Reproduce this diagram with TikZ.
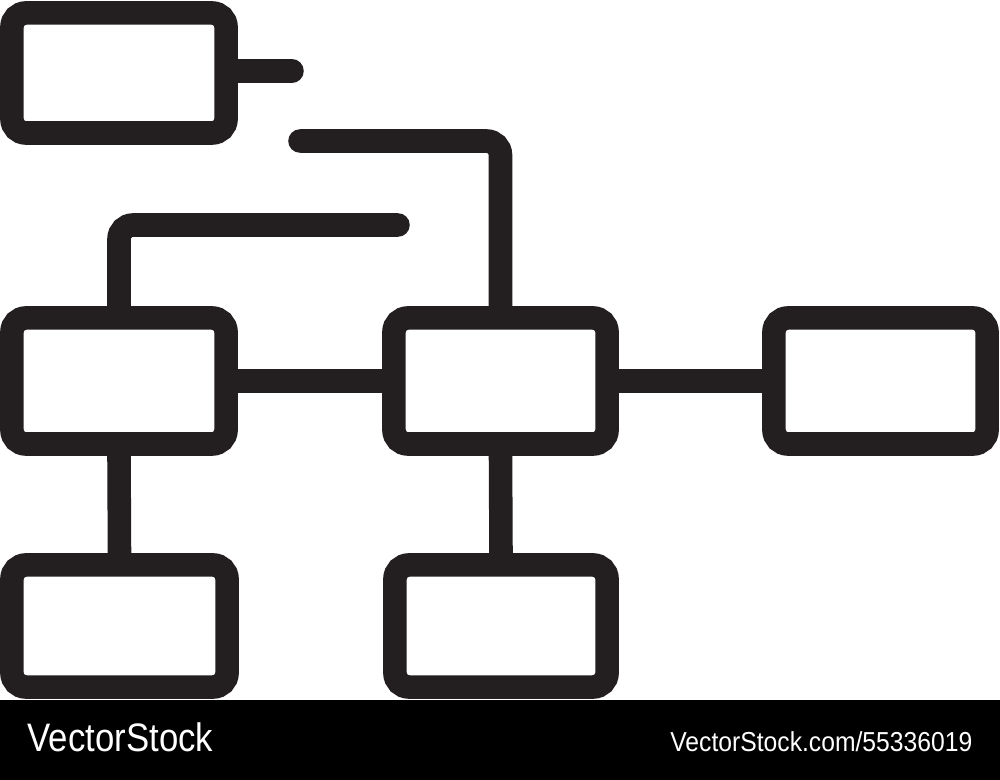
\documentclass[tikz,border=0pt]{standalone}
\usepackage{fontspec}
\newfontfamily\stockfont[FakeStretch=0.875]{Liberation Sans}
\newfontfamily\reffont[FakeStretch=0.9]{Liberation Sans}
\tikzset{
  box/.style={draw=boxink, line width=6.7pt, rounded corners=4pt, rectangle,
              inner sep=0pt, minimum width=2.14cm, minimum height=1.24cm},
  wire/.style={draw=boxink, line width=6.7pt, line cap=round, rounded corners=4pt}
}
\definecolor{boxink}{HTML}{231F20}
\begin{document}
\begin{tikzpicture}[x=0.01cm, y=-0.01cm]
        \useasboundingbox (0,0) rectangle (1000,780);
        % boxes
        \node[box, minimum height=1.20cm] (top) at (119,73) {};
        \node[box, minimum height=1.26cm] (left) at (119,381) {};
        \node[box, minimum height=1.26cm, minimum width=2.13cm] (mid) at (500.5,381) {};
        \node[box, minimum height=1.26cm, minimum width=2.13cm] (right) at (880.5,381) {};
        \node[box, minimum height=1.22cm, minimum width=2.15cm] (lbot) at (119.5,626) {};
        \node[box, minimum height=1.22cm, minimum width=2.12cm] (mbot) at (501,626) {};
        % free ends of the open wires
        \coordinate (stub) at (292,71);
        \coordinate (hook) at (300,141);
        \coordinate (arm) at (398,225);
        % wires
        \draw[wire] (top.east |- stub) -- (stub);
        \draw[wire] (hook) -| (mid.north);
        \draw[wire] (arm) -| (left.north);
        \draw[wire] (left) -- (mid);
        \draw[wire] (mid) -- (right);
        \draw[wire] (left.south) -- (lbot.north);
        \draw[wire] (mid.south) -- (mbot.north);
        % footer
        \fill[black] (0,700) rectangle (1000,780);
        \node[anchor=base west, inner sep=0pt, text=white, font=\stockfont\fontsize{11.3pt}{13pt}\selectfont] (brand) at (27,752) {VectorStock};
        \node[anchor=base east, inner sep=0pt, text=white, font=\reffont\fontsize{7.8pt}{9pt}\selectfont] (ref) at (973,752) {VectorStock.com/55336019};
      \end{tikzpicture}
\end{document}
